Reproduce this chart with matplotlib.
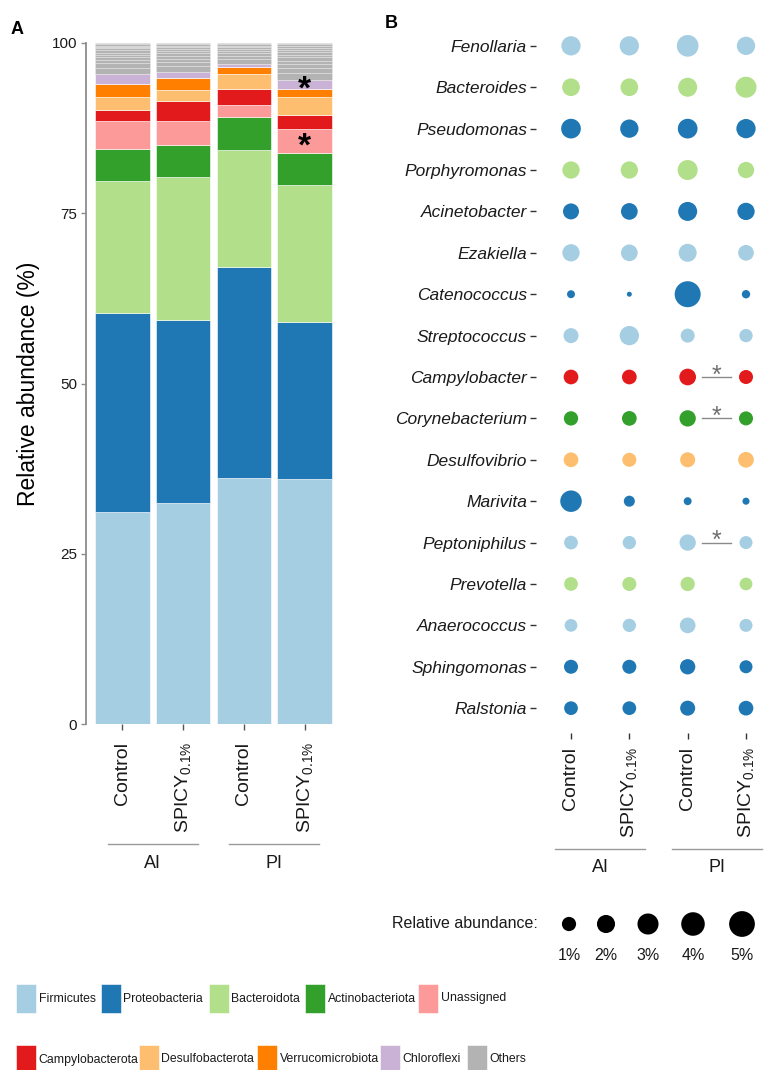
import matplotlib
matplotlib.use("Agg")
import matplotlib.pyplot as plt
import matplotlib.transforms as mtransforms
from matplotlib.patches import Rectangle
import numpy as np

plt.rcParams["font.family"] = ["Liberation Sans", "DejaVu Sans"]
plt.rcParams["mathtext.default"] = "regular"

# ---------------------------------------------------------------- data
groups = ["AI", "PI"]
treatments = ["Control", r"SPICY$_{0.1\%}$"]
sample_labels = treatments * 2

phyla = ["Firmicutes", "Proteobacteria", "Bacteroidota", "Actinobacteriota",
         "Unassigned", "Campylobacterota", "Desulfobacterota",
         "Verrucomicrobiota", "Chloroflexi", "Others"]
phylum_colors = ["#a6cee3", "#1f78b4", "#b2df8a", "#33a02c", "#fb9a99",
                 "#e31a1c", "#fdbf6f", "#ff7f00", "#cab2d6", "#b3b3b3"]

# mean relative abundance (%) per sample: AI-Control, AI-SPICY, PI-Control, PI-SPICY
firmicutes = [31.1, 32.5, 36.1, 36.0]
proteobacteria = [29.3, 26.8, 31.0, 23.0]
bacteroidota = [19.3, 21.0, 17.2, 20.2]
actinobacteriota = [4.8, 4.7, 4.9, 4.6]
unassigned = [4.1, 3.6, 1.7, 3.6]
campylobacterota = [1.6, 2.9, 2.3, 2.0]
desulfobacterota = [1.9, 1.6, 2.2, 2.6]
verrucomicrobiota = [1.9, 1.7, 1.1, 1.3]
chloroflexi = [1.5, 1.0, 0.4, 1.3]
# minor phyla pooled into "Others"
others_minor = [
    [0.9, 0.6, 0.5, 0.4, 0.4, 0.3, 0.3, 0.3, 0.2, 0.2, 0.2, 0.2],
    [0.8, 0.6, 0.5, 0.4, 0.4, 0.3, 0.3, 0.3, 0.2, 0.2, 0.2],
    [0.7, 0.5, 0.4, 0.3, 0.3, 0.3, 0.2, 0.2, 0.2],
    [1.0, 0.7, 0.6, 0.5, 0.5, 0.4, 0.4, 0.3, 0.3, 0.3, 0.2, 0.2],
]
# phyla differing significantly in PI-SPICY (sample index 3)
phylum_signif = ["Unassigned", "Chloroflexi"]

genera = ["Fenollaria", "Bacteroides", "Pseudomonas", "Porphyromonas",
          "Acinetobacter", "Ezakiella", "Catenococcus", "Streptococcus",
          "Campylobacter", "Corynebacterium", "Desulfovibrio", "Marivita",
          "Peptoniphilus", "Prevotella", "Anaerococcus", "Sphingomonas",
          "Ralstonia"]
genus_phylum = ["Firmicutes", "Bacteroidota", "Proteobacteria", "Bacteroidota",
                "Proteobacteria", "Firmicutes", "Proteobacteria", "Firmicutes",
                "Campylobacterota", "Actinobacteriota", "Desulfobacterota",
                "Proteobacteria", "Firmicutes", "Bacteroidota", "Firmicutes",
                "Proteobacteria", "Proteobacteria"]
genus_abund = [
    [2.38, 2.38, 3.24, 2.07],
    [1.88, 1.88, 2.29, 2.98],
    [2.52, 2.07, 2.52, 2.38],
    [1.77, 1.77, 2.62, 1.50],
    [1.42, 1.60, 2.29, 1.77],
    [1.77, 1.60, 1.97, 1.34],
    [0.12, 0.02, 5.12, 0.15],
    [1.18, 2.38, 0.96, 0.82],
    [1.11, 1.11, 1.60, 0.96],
    [1.02, 1.11, 1.50, 0.96],
    [1.11, 0.96, 1.18, 1.34],
    [3.17, 0.44, 0.12, 0.07],
    [0.90, 0.82, 1.50, 0.76],
    [0.90, 0.96, 1.02, 0.71],
    [0.71, 0.82, 1.34, 0.76],
    [0.96, 0.96, 1.25, 0.76],
    [0.90, 0.90, 1.18, 1.11],
]
# genera with a significant Control vs SPICY difference in PI
genus_signif = ["Campylobacter", "Corynebacterium", "Peptoniphilus"]
size_breaks = [1, 2, 3, 4, 5]

# ---------------------------------------------------------------- helpers
W, H = 782, 1070
DPI = 100
PX = DPI / 72.0  # pixels per point


def fx(px):
    return px / W


def fy(py):
    return 1 - py / H


def bubble_size(v):
    """Area-style size scale: diameter grows with sqrt of abundance (points^2)."""
    v = np.asarray(v, dtype=float)
    d_px = 5.0 + 9.3 * np.sqrt(np.clip(v - 0.02, 0, None))
    return (d_px / PX) ** 2


fig = plt.figure(figsize=(W / DPI, H / DPI), dpi=DPI)

# ---------------------------------------------------------------- panel A
axA = fig.add_axes([fx(86), fy(724), fx(341) - fx(86), fy(43) - fy(724)])
xs = np.arange(len(sample_labels))
stack = [firmicutes, proteobacteria, bacteroidota, actinobacteriota, unassigned,
         campylobacterota, desulfobacterota, verrucomicrobiota, chloroflexi]
bottom = np.zeros(len(xs))
seg_mid = {}
for name, vals, col in zip(phyla[:-1], stack, phylum_colors[:-1]):
    vals = np.asarray(vals, dtype=float)
    axA.bar(xs, vals, bottom=bottom, width=0.9, color=col,
            edgecolor="white", linewidth=0.4)
    seg_mid[name] = bottom + vals / 2
    bottom = bottom + vals
for i, parts in enumerate(others_minor):
    b = bottom[i]
    for p in parts:
        axA.bar(xs[i], p, bottom=b, width=0.9, color=phylum_colors[-1],
                edgecolor=(1, 1, 1, 0.35), linewidth=0.5)
        b += p

for name in phylum_signif:
    axA.text(xs[3], seg_mid[name][3] - 0.9, "*", ha="center", va="center",
             fontsize=24, fontweight="bold", color="black")

axA.set_xlim(-0.6, 3.6)
axA.set_ylim(0, 100)
axA.set_yticks([0, 25, 50, 75, 100])
axA.set_yticklabels(["0", "25", "50", "75", "100"])
axA.set_xticks(xs)
axA.set_xticklabels(sample_labels, rotation=90, ha="center", va="top")
for s in ["top", "right", "bottom"]:
    axA.spines[s].set_visible(False)
axA.spines["left"].set_color("#8c8c8c")
axA.spines["left"].set_linewidth(1.3)
axA.tick_params(axis="y", length=3.5, width=1.0, color="#8c8c8c",
                labelsize=11, labelcolor="#1a1a1a", pad=3)
axA.tick_params(axis="x", length=4, width=1.0, color="#555555",
                labelsize=14, labelcolor="#1a1a1a", pad=9)
axA.set_ylabel("Relative abundance (%)", fontsize=16.5, va="center")
axA.yaxis.set_label_coords((29 - 86) / 255, 0.5)

# group brackets under the tick labels
tA = mtransforms.blended_transform_factory(axA.transData, axA.transAxes)
for g, name in enumerate(groups):
    c = 2 * g + 0.5
    axA.plot([c - 0.74, c + 0.74], [-120 / 681] * 2, color="#9a9a9a",
             lw=1.0, transform=tA, clip_on=False)
    axA.text(c, -139 / 681, name, transform=tA, ha="center", va="center",
             fontsize=13, color="#1a1a1a")

# ---------------------------------------------------------------- panel B
axB = fig.add_axes([fx(536), fy(733), fx(781) - fx(536), fy(21) - fy(733)])
ycoords = np.arange(len(genera))
color_of = dict(zip(phyla, phylum_colors))
for r, (g, ph, vals) in enumerate(zip(genera, genus_phylum, genus_abund)):
    axB.scatter(xs, [r] * len(xs), s=bubble_size(vals), color=color_of[ph],
                linewidths=0, zorder=3)
for g in genus_signif:
    r = genera.index(g)
    axB.plot([2.25, 2.75], [r, r], color="#8a8a8a", lw=1.0, zorder=2)
    axB.text(2.5, r + 0.13, "*", ha="center", va="baseline", fontsize=18,
             color="#6e6e6e")

axB.set_xlim(-0.6, 3.6)
axB.set_ylim(len(genera) - 0.4, -0.6)
axB.set_yticks(ycoords)
axB.set_yticklabels(genera, fontstyle="italic")
axB.set_xticks(xs)
axB.set_xticklabels(sample_labels, rotation=90, ha="center", va="top")
for s in axB.spines.values():
    s.set_visible(False)
axB.tick_params(axis="y", length=4, width=1.0, color="#333333",
                labelsize=12.5, labelcolor="#1a1a1a", pad=2.5)
axB.tick_params(axis="x", length=4, width=1.0, color="#333333",
                labelsize=14, labelcolor="#1a1a1a", pad=6)

tB = mtransforms.blended_transform_factory(axB.transData, axB.transAxes)
hB = 712.0
for g, name in enumerate(groups):
    c = 2 * g + 0.5
    axB.plot([c - 0.77, c + 0.77], [-116 / hB] * 2, color="#9a9a9a",
             lw=1.0, transform=tB, clip_on=False)
    axB.text(c, -135 / hB, name, transform=tB, ha="center", va="center",
             fontsize=13, color="#1a1a1a")

# ---------------------------------------------------------------- keys
# overlay in pixel units for the two keys
key = fig.add_axes([0, 0, 1, 1], zorder=-1)
key.set_xlim(0, W)
key.set_ylim(H, 0)
key.axis("off")

# bubble size key
key_x = [569, 606, 648, 693, 742]
key.text(538, 924, "Relative abundance:", ha="right", va="center",
         fontsize=11.5, color="#1a1a1a")
key.scatter(key_x, [924] * len(key_x), s=bubble_size(size_breaks),
            color="black", linewidths=0)
for xk, b in zip(key_x, size_breaks):
    key.text(xk, 955, f"{b}%", ha="center", va="center", fontsize=11.5,
             color="#1a1a1a")

# phylum fill key, two rows of five swatches
key_rows = [(0, 984, [16, 101, 209, 305, 418]),
            (5, 1045, [16, 139, 257, 380, 467])]
sw_w, sw_h = 20, 29
for start, top, lefts in key_rows:
    for j, left in enumerate(lefts):
        k = start + j
        key.add_patch(Rectangle((left, top), sw_w, sw_h,
                                facecolor=phylum_colors[k], edgecolor="white",
                                linewidth=0.4, clip_on=False))
        key.text(left + sw_w + 2.5, top + sw_h / 2, phyla[k], ha="left",
                 va="center", fontsize=8.8, color="#1a1a1a")

# ---------------------------------------------------------------- panel tags
fig.text(fx(17), fy(30), "A", fontsize=13, fontweight="bold",
         ha="center", va="center")
fig.text(fx(391), fy(24), "B", fontsize=13, fontweight="bold",
         ha="center", va="center")

fig.savefig("out.png", dpi=DPI)
